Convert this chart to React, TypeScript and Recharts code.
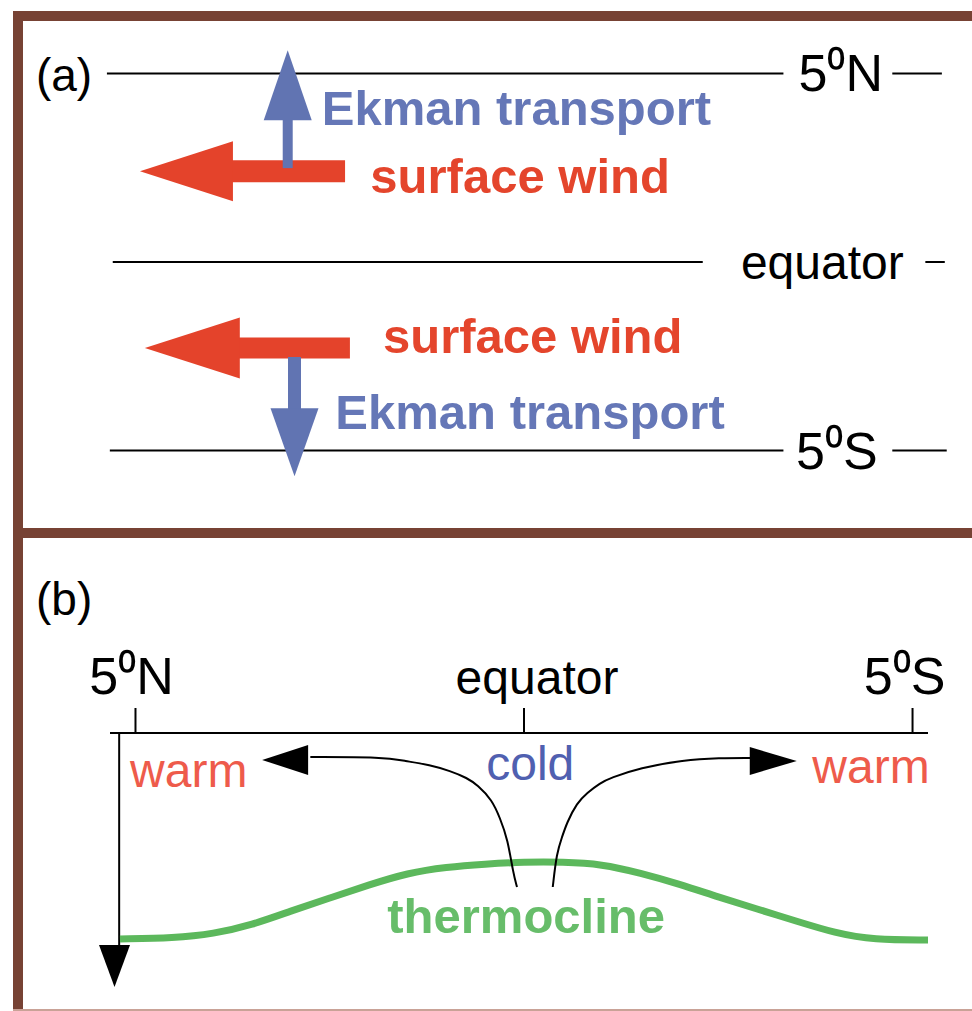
import React from 'react';
import { LineChart, Line, XAxis, YAxis, ReferenceDot } from 'recharts';

const FONT = '"Liberation Sans", Arial, Helvetica, sans-serif';
const BROWN = '#774234';
const RED = '#e4432b';
const BLUE = '#6174b2';
const GREEN = '#5cb85c';

// latitude ticks shared by both panels
const latValues = [5, 0, -5];
const latLabels = ['5⁰N', 'equator', '5⁰S'];

// ---- panel (a): x = position across the panel (0-100), lat = degrees ----
const parallelSegments = [
  { lat: 5, from: 11.0, to: 80.6 },
  { lat: 5, from: 91.8, to: 96.9 },
  { lat: 0, from: 11.6, to: 72.3 },
  { lat: 0, from: 95.2, to: 97.2 },
  { lat: -5, from: 11.3, to: 80.6 },
  { lat: -5, from: 91.8, to: 97.4 },
];
const parallelLabelX = [86.5, 84.6, 86.1];

const windNorth = [{ x: 35.5, lat: 2.41 }, { x: 23.5, lat: 2.41 }];
const windNorthTip = { x: 14.4, lat: 2.41 };
const windSouth = [{ x: 36.0, lat: -2.28 }, { x: 24.2, lat: -2.28 }];
const windSouthTip = { x: 14.9, lat: -2.28 };
const ekmanNorth = [{ x: 29.6, lat: 2.49 }, { x: 29.6, lat: 3.9 }];
const ekmanNorthTip = { x: 29.6, lat: 5.62 };
const ekmanSouth = [{ x: 30.3, lat: -2.52 }, { x: 30.3, lat: -3.95 }];
const ekmanSouthTip = { x: 30.3, lat: -5.68 };

const panelALabels = [
  { text: '(a)', x: 3.7, lat: 4.95, kind: 'panel' },
  { text: 'Ekman transport', x: 33.1, lat: 4.08, kind: 'ekman' },
  { text: 'surface wind', x: 38.1, lat: 2.29, kind: 'wind' },
  { text: 'surface wind', x: 39.4, lat: -1.95, kind: 'wind' },
  { text: 'Ekman transport', x: 34.5, lat: -3.99, kind: 'ekman' },
];

// ---- panel (b): lat = degrees, depth = metres below surface ----
const thermocline = [
  { lat: 5.2, depth: 206 }, { lat: 4.5, depth: 205 }, { lat: 4, depth: 201 },
  { lat: 3.5, depth: 192 }, { lat: 3, depth: 178 }, { lat: 2.5, depth: 165 },
  { lat: 2, depth: 152 }, { lat: 1.5, depth: 140 }, { lat: 1, depth: 134 },
  { lat: 0.5, depth: 131 }, { lat: 0, depth: 129 }, { lat: -0.5, depth: 129 },
  { lat: -1, depth: 131 }, { lat: -1.5, depth: 140 }, { lat: -2, depth: 151 },
  { lat: -2.5, depth: 164 }, { lat: -3, depth: 176 }, { lat: -3.5, depth: 188 },
  { lat: -4, depth: 200 }, { lat: -4.5, depth: 207 }, { lat: -5.2, depth: 207 },
];
const upwellingNorth = [
  { lat: 2.75, depth: 24 }, { lat: 1.81, depth: 24 }, { lat: 1.53, depth: 28 },
  { lat: 1.21, depth: 32 }, { lat: 0.95, depth: 38 }, { lat: 0.73, depth: 45 },
  { lat: 0.6, depth: 52 }, { lat: 0.41, depth: 67 }, { lat: 0.31, depth: 85 },
  { lat: 0.21, depth: 106 }, { lat: 0.14, depth: 140 }, { lat: 0.09, depth: 154 },
];
const upwellingSouth = [
  { lat: -0.37, depth: 154 }, { lat: -0.42, depth: 120 }, { lat: -0.49, depth: 104 },
  { lat: -0.55, depth: 90 }, { lat: -0.68, depth: 70 }, { lat: -0.81, depth: 60 },
  { lat: -0.98, depth: 50 }, { lat: -1.11, depth: 45 }, { lat: -1.49, depth: 35 },
  { lat: -2.05, depth: 27 }, { lat: -2.52, depth: 25 }, { lat: -2.91, depth: 25 },
];
const depthAxis = [{ lat: 5.21, depth: 0 }, { lat: 5.21, depth: 214 }];
const northTip = { lat: 3.37, depth: 27 };
const southTip = { lat: -3.51, depth: 28 };
const depthTip = { lat: 5.27, depth: 254 };

const panelBLabels = [
  { text: '(b)', lat: 6.28, depth: -134, kind: 'panel' },
  { text: 'warm', lat: 5.07, depth: 37, kind: 'warm' },
  { text: 'cold', lat: -0.08, depth: 30, kind: 'cold' },
  { text: 'warm', lat: -3.71, depth: 33, kind: 'warm' },
  { text: 'thermocline', lat: 1.76, depth: 183, kind: 'thermo' },
];

const labelStyle: Record<string, any> = {
  panel: { fontSize: 46, fill: '#000' },
  ekman: { fontSize: 49, fontWeight: 'bold', fill: '#6577b7' },
  wind: { fontSize: 49, fontWeight: 'bold', fill: '#e4452c' },
  warm: { fontSize: 48, fill: '#ee5b4b' },
  cold: { fontSize: 48, fill: '#5060b0', textAnchor: 'middle' },
  thermo: { fontSize: 49, fontWeight: 'bold', fill: '#67bd6a' },
};

const textShape = (text: string, style: any) => (p: any) => (
  <text x={p.cx} y={p.cy} dominantBaseline="central" fontFamily={FONT} {...style}>
    {text}
  </text>
);

const headShape = (dir: string, len: number, half: number, fill: string) => (p: any) => {
  const { cx, cy } = p;
  let pts: number[][];
  if (dir === 'left') pts = [[cx, cy], [cx + len, cy - half], [cx + len, cy + half]];
  else if (dir === 'right') pts = [[cx, cy], [cx - len, cy - half], [cx - len, cy + half]];
  else if (dir === 'up') pts = [[cx, cy], [cx - half, cy + len], [cx + half, cy + len]];
  else pts = [[cx, cy], [cx - half, cy - len], [cx + half, cy - len]];
  return <polygon points={pts.map((q) => q.join(',')).join(' ')} fill={fill} />;
};

// the labels in the original sit a little off their tick marks
const tickLabelDx = [-4, 13, -8];

const LatTick = (props: any) => {
  const { x, y, payload } = props;
  const i = latValues.indexOf(payload.value);
  const label = latLabels[i];
  return (
    <text x={x + tickLabelDx[i]} y={y - 12} textAnchor="middle" fontFamily={FONT} fontSize={label === 'equator' ? 48 : 52} fill="#000">
      {label}
    </text>
  );
};

const PanelA = () => (
  <LineChart width={972} height={528} margin={{ top: 0, right: 0, bottom: 0, left: 0 }}>
    <XAxis type="number" dataKey="x" domain={[0, 100]} hide allowDataOverflow />
    <YAxis type="number" dataKey="lat" domain={[-7.0557, 6.9496]} hide allowDataOverflow />
    {parallelSegments.map((s, i) => (
      <Line
        key={'p' + i}
        data={[{ x: s.from, lat: s.lat }, { x: s.to, lat: s.lat }]}
        dataKey="lat"
        stroke="#000"
        strokeWidth={2}
        dot={false}
        activeDot={false}
        isAnimationActive={false}
      />
    ))}
    <Line data={windNorth} dataKey="lat" stroke={RED} strokeWidth={22} dot={false} activeDot={false} isAnimationActive={false} />
    <Line data={windSouth} dataKey="lat" stroke={RED} strokeWidth={21} dot={false} activeDot={false} isAnimationActive={false} />
    <Line data={ekmanNorth} dataKey="lat" stroke={BLUE} strokeWidth={10} dot={false} activeDot={false} isAnimationActive={false} />
    <Line data={ekmanSouth} dataKey="lat" stroke={BLUE} strokeWidth={13} dot={false} activeDot={false} isAnimationActive={false} />
    <ReferenceDot x={windNorthTip.x} y={windNorthTip.lat} ifOverflow="visible" shape={headShape('left', 93, 30, RED)} />
    <ReferenceDot x={windSouthTip.x} y={windSouthTip.lat} ifOverflow="visible" shape={headShape('left', 95, 30.5, RED)} />
    <ReferenceDot x={ekmanNorthTip.x} y={ekmanNorthTip.lat} ifOverflow="visible" shape={headShape('up', 70, 24, BLUE)} />
    <ReferenceDot x={ekmanSouthTip.x} y={ekmanSouthTip.lat} ifOverflow="visible" shape={headShape('down', 68, 24, BLUE)} />
    {latValues.map((lat, i) => (
      <ReferenceDot
        key={'l' + i}
        x={parallelLabelX[i]}
        y={lat}
        ifOverflow="visible"
        shape={textShape(latLabels[i], { fontSize: latLabels[i] === 'equator' ? 48 : 52, fill: '#000', textAnchor: 'middle' })}
      />
    ))}
    {panelALabels.map((l, i) => (
      <ReferenceDot key={'t' + i} x={l.x} y={l.lat} ifOverflow="visible" shape={textShape(l.text, labelStyle[l.kind])} />
    ))}
  </LineChart>
);

const PanelB = () => (
  <LineChart width={972} height={473} margin={{ top: 135, right: 44, bottom: 24, left: 110 }}>
    <XAxis
      orientation="top"
      type="number"
      dataKey="lat"
      domain={[-5.199, 5.328]}
      reversed
      allowDataOverflow
      ticks={latValues}
      interval={0}
      height={60}
      tickSize={25}
      axisLine={{ stroke: '#000', strokeWidth: 2 }}
      tickLine={{ stroke: '#000', strokeWidth: 2 }}
      tick={(p: any) => <LatTick {...p} />}
    />
    <YAxis type="number" dataKey="depth" domain={[0, 254]} reversed allowDataOverflow hide />
    <Line data={depthAxis} dataKey="depth" stroke="#000" strokeWidth={2} dot={false} activeDot={false} isAnimationActive={false} />
    <Line data={thermocline} type="basis" dataKey="depth" stroke={GREEN} strokeWidth={7} dot={false} activeDot={false} isAnimationActive={false} />
    <Line data={upwellingNorth} type="basis" dataKey="depth" stroke="#000" strokeWidth={2} dot={false} activeDot={false} isAnimationActive={false} />
    <Line data={upwellingSouth} type="basis" dataKey="depth" stroke="#000" strokeWidth={2} dot={false} activeDot={false} isAnimationActive={false} />
    <ReferenceDot x={northTip.lat} y={northTip.depth} ifOverflow="visible" shape={headShape('left', 46, 15, '#000')} />
    <ReferenceDot x={southTip.lat} y={southTip.depth} ifOverflow="visible" shape={headShape('right', 47, 14, '#000')} />
    <ReferenceDot x={depthTip.lat} y={depthTip.depth} ifOverflow="visible" shape={headShape('down', 42, 15.5, '#000')} />
    {panelBLabels.map((l, i) => (
      <ReferenceDot key={'t' + i} x={l.lat} y={l.depth} ifOverflow="visible" shape={textShape(l.text, labelStyle[l.kind])} />
    ))}
  </LineChart>
);

export default function App() {
  return (
    <div style={{ position: 'absolute', left: 0, top: 0, width: 972, height: 1011, overflow: 'hidden', background: '#fff' }}>
      <div style={{ position: 'absolute', left: 0, top: 0 }}>
        <PanelA />
      </div>
      <div style={{ position: 'absolute', left: 0, top: 538 }}>
        <PanelB />
      </div>
      <div style={{ position: 'absolute', left: 13, top: 11, width: 10, height: 1000, background: BROWN }} />
      <div style={{ position: 'absolute', left: 13, top: 11, width: 959, height: 10, background: BROWN }} />
      <div style={{ position: 'absolute', left: 13, top: 528, width: 959, height: 10, background: BROWN }} />
      <div style={{ position: 'absolute', left: 13, top: 1009, width: 959, height: 2, background: '#c9a297' }} />
    </div>
  );
}
